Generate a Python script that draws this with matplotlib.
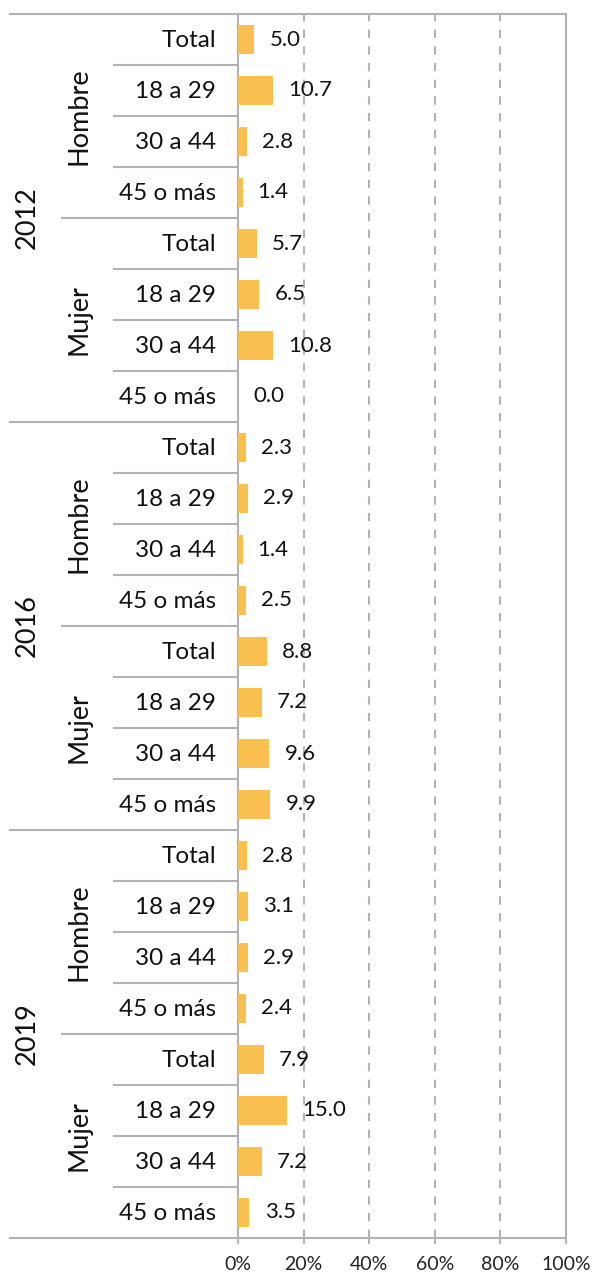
import numpy as np
import matplotlib.pyplot as plt
from matplotlib.transforms import blended_transform_factory

plt.rcParams['font.family'] = ['Lato', 'DejaVu Sans']

years = ['2012', '2016', '2019']
sexes = ['Hombre', 'Mujer']
ages = ['Total', '18 a 29', '30 a 44', '45 o más']

h2012 = [5.0, 10.7, 2.8, 1.4]
m2012 = [5.7, 6.5, 10.8, 0.0]
h2016 = [2.3, 2.9, 1.4, 2.5]
m2016 = [8.8, 7.2, 9.6, 9.9]
h2019 = [2.8, 3.1, 2.9, 2.4]
m2019 = [7.9, 15.0, 7.2, 3.5]

values = h2012 + m2012 + h2016 + m2016 + h2019 + m2019
labels = ages * 6
n = len(values)

W, H = 596, 1272
fig = plt.figure(figsize=(W/100, H/100), dpi=100)
x0, x1, ytop, ybot = 238, 566, 14, 1238
ax = fig.add_axes([x0/W, 1-ybot/H, (x1-x0)/W, (ybot-ytop)/H])

gray = '#b3b3b3'
y = np.arange(n)
ax.barh(y, values, height=0.55, color='#f9c050', zorder=3)
for yi, v in zip(y, values):
    ax.text(v + 4.6, yi, f'{v:.1f}', va='center', ha='left', fontsize=16, color='#111111', zorder=4)

ax.set_xlim(0, 100)
ax.set_ylim(n - 0.5, -0.5)
ax.set_xticks([0, 20, 40, 60, 80, 100])
ax.set_xticklabels(['0%', '20%', '40%', '60%', '80%', '100%'], fontsize=14, color='#222222')
ax.set_yticks([])
ax.tick_params(axis='x', length=4, color=gray, width=1.5, pad=9)
for xv in [20, 40, 60, 80]:
    ax.axvline(xv, color=gray, lw=1.5, linestyle=(0, (4, 4)), zorder=1)
for s in ['left', 'right', 'top', 'bottom']:
    ax.spines[s].set_color(gray)
    ax.spines[s].set_linewidth(1.5)

def px(p):
    return (p - x0) / (x1 - x0)

tr = blended_transform_factory(ax.transAxes, ax.transData)
# separators between rows
for k in range(1, n + 1):
    yb = k - 0.5
    if k % 8 == 0:
        xs = px(10)
    elif k % 4 == 0:
        xs = px(62)
    else:
        xs = px(114)
    ax.plot([xs, 0], [yb, yb], color=gray, lw=1.5, transform=tr, clip_on=False)
ax.plot([px(10), 0], [-0.5, -0.5], color=gray, lw=1.5, transform=tr, clip_on=False)

# row labels
for yi, lab in zip(y, labels):
    ax.text(px(216), yi + 0.02, lab, ha='right', va='center', fontsize=17.5, color='#111111',
            transform=tr)
for g in range(6):
    ax.text(px(79), g * 4 + 1.5, sexes[g % 2], rotation=90, ha='center', va='center',
            fontsize=19.5, color='#111111', transform=tr)
for g in range(3):
    ax.text(px(27), g * 8 + 3.5, years[g], rotation=90, ha='center', va='center',
            fontsize=19.5, color='#111111', transform=tr)

plt.savefig('out.png', dpi=100)
